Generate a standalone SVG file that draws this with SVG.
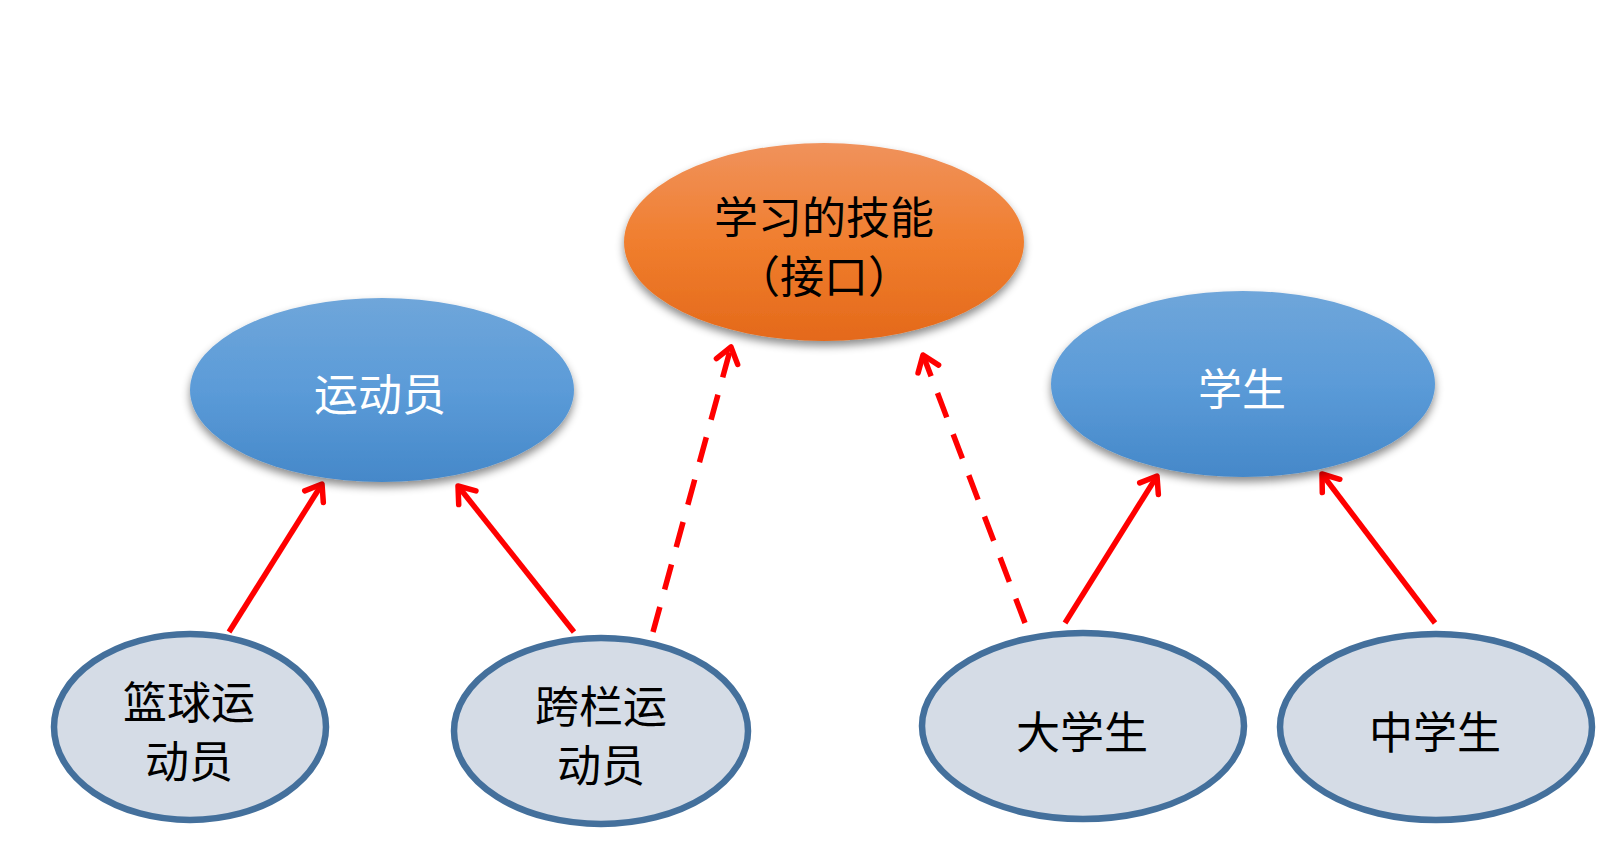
<svg xmlns="http://www.w3.org/2000/svg" width="1619" height="866" viewBox="0 0 1619 866">
<style>
.t{font-family:"Noto Sans CJK SC","Noto Sans CJK TC",sans-serif;font-size:44px;text-anchor:middle;dominant-baseline:central}
.dark{fill:#000}
.light{fill:#fff}
.leaf{fill:#d5dce6;stroke:#44709c;stroke-width:6.5}
.c{fill:none;stroke:#ff0000;stroke-width:5.5;marker-end:url(#ah)}
.dash{stroke-dasharray:26 18}
</style>
<defs>
<linearGradient id="gO" x1="0" y1="0" x2="0" y2="1">
<stop offset="0" stop-color="#f0925c"/>
<stop offset="0.5" stop-color="#f07e2e"/>
<stop offset="1" stop-color="#e4691a"/>
</linearGradient>
<linearGradient id="gB" x1="0" y1="0" x2="0" y2="1">
<stop offset="0" stop-color="#6fa6da"/>
<stop offset="0.5" stop-color="#5b9bd8"/>
<stop offset="1" stop-color="#4588c9"/>
</linearGradient>
<filter id="sh" x="-20%" y="-20%" width="140%" height="150%">
<feDropShadow dx="0" dy="5" stdDeviation="4" flood-color="#000" flood-opacity="0.45"/>
</filter>
<marker id="ah" markerUnits="userSpaceOnUse" markerWidth="40" markerHeight="40" refX="20" refY="20" orient="auto" overflow="visible">
<polyline points="5,9 20,20 5,31" fill="none" stroke="#ff0000" stroke-width="5.5" stroke-linecap="round" stroke-linejoin="round"/>
</marker>
</defs>
<rect width="1619" height="866" fill="#fff"/>
<g id="connectors">
<line class="c" x1="229" y1="632" x2="322" y2="484"/>
<line class="c" x1="574" y1="632" x2="458" y2="486"/>
<line class="c dash" x1="653" y1="632" x2="731" y2="347"/>
<line class="c dash" x1="1025" y1="623" x2="923" y2="355"/>
<line class="c" x1="1065" y1="623" x2="1157" y2="476"/>
<line class="c" x1="1435" y1="623" x2="1322" y2="474"/>
</g>
<g id="interface">
<ellipse cx="824" cy="242" rx="200" ry="99" fill="url(#gO)" filter="url(#sh)"/>
<text class="t dark" x="824" y="215">学习的技能</text>
<text class="t dark" x="824" y="274">（接口）</text>
</g>
<g id="athlete">
<ellipse cx="382" cy="390" rx="192" ry="92" fill="url(#gB)" filter="url(#sh)"/>
<text class="t light" x="380" y="392">运动员</text>
</g>
<g id="student">
<ellipse cx="1243" cy="384" rx="192" ry="93" fill="url(#gB)" filter="url(#sh)"/>
<text class="t light" x="1242" y="387">学生</text>
</g>
<g id="basketball">
<ellipse class="leaf" cx="190" cy="727" rx="136" ry="93"/>
<text class="t dark" x="189" y="700">篮球运</text>
<text class="t dark" x="189" y="759">动员</text>
</g>
<g id="hurdler">
<ellipse class="leaf" cx="601" cy="731" rx="147" ry="93"/>
<text class="t dark" x="601" y="704">跨栏运</text>
<text class="t dark" x="601" y="763">动员</text>
</g>
<g id="college">
<ellipse class="leaf" cx="1083" cy="726" rx="161" ry="93"/>
<text class="t dark" x="1082" y="730">大学生</text>
</g>
<g id="middle">
<ellipse class="leaf" cx="1436" cy="727" rx="156" ry="93"/>
<text class="t dark" x="1435" y="730">中学生</text>
</g>
</svg>
